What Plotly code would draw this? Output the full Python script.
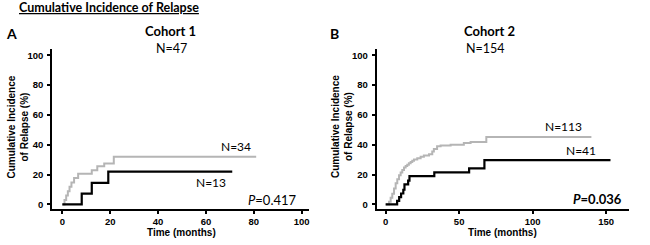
import plotly.graph_objects as go

W, H = 650, 245

# ---------------- data ----------------
a_gray_t = [0, 0.9, 1.6, 2.3, 3.0, 3.8, 4.9, 6.6, 12.3, 14.6, 17.5, 21.5, 81]
a_gray_v = [0, 2.9, 5.9, 8.8, 11.8, 14.7, 17.6, 20.6, 22.8, 25.5, 27.4, 31.9, 31.9]
a_black_t = [0, 8.1, 12.3, 19.2, 71]
a_black_v = [0, 7.2, 14.4, 22.0, 22.0]

b_gray_t = [0, 2.3, 3.4, 4.5, 5.7, 6.8, 7.9, 9.1, 10.2, 11.3, 12.5, 13.6, 14.7, 15.8, 17.0,
            18.1, 19.3, 21.5, 23.8, 26.0, 29.5, 31.7, 32.8, 35.0, 37.4, 44.2, 53.2, 57.8, 68.5, 140]
b_gray_v = [0, 1.8, 4.4, 7.1, 10.6, 14.2, 16.8, 19.5, 21.3, 23.0, 24.8, 25.7, 26.6, 27.5, 28.4,
            29.3, 30.1, 31.0, 31.9, 32.8, 33.6, 35.4, 37.2, 38.9, 39.4, 40.0, 41.1, 41.9, 45.2, 45.2]
b_black_t = [0, 7.8, 9.2, 10.5, 12.0, 12.8, 15.3, 16.2, 33.1, 56.8, 67.2, 153]
b_black_v = [0, 2.4, 4.9, 7.3, 9.8, 13.4, 15.9, 19.0, 21.5, 24.2, 29.6, 29.6]

x_ticks_a = [0, 20, 40, 60, 80, 100]
x_ticks_b = [0, 50, 100, 150]
y_ticks = [0, 20, 40, 60, 80, 100]

GRAY = "#b5b5b5"
BLACK = "#000000"
TXT = "Lato"
TICKF = "Liberation Sans"

fig = go.Figure()

fig.add_trace(go.Scatter(x=a_gray_t, y=a_gray_v, mode="lines", line=dict(color=GRAY, width=2, shape="hv"),
                         xaxis="x", yaxis="y", showlegend=False))
fig.add_trace(go.Scatter(x=a_black_t, y=a_black_v, mode="lines", line=dict(color=BLACK, width=2.2, shape="hv"),
                         xaxis="x", yaxis="y", showlegend=False))
fig.add_trace(go.Scatter(x=b_gray_t, y=b_gray_v, mode="lines", line=dict(color=GRAY, width=2, shape="hv"),
                         xaxis="x2", yaxis="y2", showlegend=False))
fig.add_trace(go.Scatter(x=b_black_t, y=b_black_v, mode="lines", line=dict(color=BLACK, width=2.2, shape="hv"),
                         xaxis="x2", yaxis="y2", showlegend=False))

def px(x):
    return x / W

def py(y):
    return 1 - y / H

ydom = [py(209), py(48.5)]

axis_common = dict(showline=True, linecolor="black", linewidth=2, ticks="outside", ticklen=3,
                   tickwidth=1.5, tickcolor="black", showgrid=False, zeroline=False,
                   tickfont=dict(family=TICKF, size=9.5, color="black", weight="bold"))

fig.update_layout(
    width=W, height=H, margin=dict(l=0, r=0, t=0, b=0),
    paper_bgcolor="white", plot_bgcolor="white",
    xaxis=dict(domain=[px(52.3), px(309.3)], range=[-4.2, 103.2], tickvals=x_ticks_a,
               anchor="y", ticklabelstandoff=0, **axis_common),
    yaxis=dict(domain=ydom, range=[-3.1, 104.5], tickvals=y_ticks, anchor="x",
               ticklabelstandoff=2, **axis_common),
    xaxis2=dict(domain=[px(376.7), px(629.3)], range=[-6.1, 165.8], tickvals=x_ticks_b,
                anchor="y2", ticklabelstandoff=0, **axis_common),
    yaxis2=dict(domain=ydom, range=[-3.1, 104.5], tickvals=y_ticks, anchor="x2",
                ticklabelstandoff=2, **axis_common),
)

def ann(text, x, y, size, family=TXT, xanchor="center", xref="paper", yref="paper", color="black"):
    fig.add_annotation(text=text, x=x, y=y, xref=xref, yref=yref, showarrow=False,
                       xanchor=xanchor, yanchor="middle",
                       font=dict(family=family, size=size, color=color))

# Titles
ann("<b><u>Cumulative Incidence of Relapse</u></b>", px(17), py(8), 12.5, xanchor="left")
ann("<b>A</b>", px(4), py(33), 14, xanchor="left")
ann("<b>B</b>", px(328), py(33), 14, xanchor="left")
ann("<b>Cohort 1</b>", px(170), py(31), 13)
ann("N=47", px(171), py(48), 12.5)
ann("<b>Cohort 2</b>", px(489), py(31), 13)
ann("N=154", px(485), py(48), 12.5)

# Axis titles
for xc in (17.5, 342):
    fig.add_annotation(text="<b>Cumulative Incidence<br>of Relapse (%)</b>", x=px(xc), y=py(127),
                       xref="paper", yref="paper", showarrow=False, textangle=-90,
                       xanchor="center", yanchor="middle",
                       font=dict(family=TICKF, size=10, color="black"))
ann("<b>Time (months)</b>", px(181), py(232), 10, family=TICKF)
ann("<b>Time (months)</b>", px(502), py(232), 10, family=TICKF)

# In-plot labels
ann("N=34", 72.6, 39, 12, xref="x", yref="y")
ann("N=13", 62.1, 14.5, 12, xref="x", yref="y")
ann("<i>P</i>=0.417", 98.8, 2.9, 13, xanchor="right", xref="x", yref="y")
ann("N=113", 120.9, 52.3, 12, xref="x2", yref="y2")
ann("N=41", 133, 35.9, 12, xref="x2", yref="y2")
ann("<b><i>P</i>=0.036</b>", 162.2, 3.8, 13, xanchor="right", xref="x2", yref="y2")

fig.write_html("out.html", config={"displayModeBar": False},
               post_script="document.body.style.margin='0';document.body.style.overflow='hidden';")
